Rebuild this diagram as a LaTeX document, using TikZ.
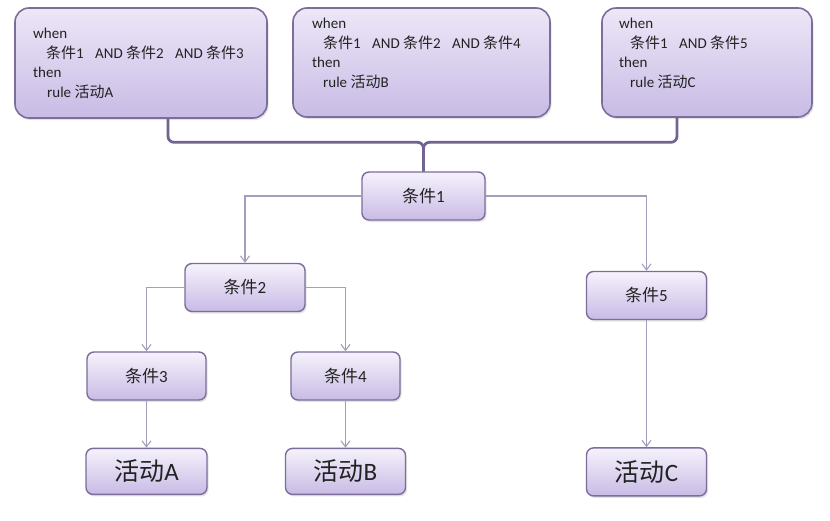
\documentclass[tikz,border=0pt]{standalone}
\usepackage{fontspec}
\setmainfont{Carlito}
\newfontfamily\cjk{Noto Sans CJK SC}
\usetikzlibrary{positioning,arrows.meta,calc,shadows}
\definecolor{BoxTop}{RGB}{246,242,252}
\definecolor{BoxBottom}{RGB}{200,187,229}
\definecolor{BoxBorder}{RGB}{124,109,154}
\definecolor{LinkGray}{RGB}{165,157,189}
\definecolor{BraceLine}{RGB}{114,100,144}
\definecolor{TextDark}{RGB}{34,34,34}
\newcommand{\zh}[1]{{\cjk #1}}

\begin{document}
\begin{tikzpicture}[
  x=1pt, y=-1pt,
  every node/.style={text=TextDark},
  rulebox/.style={draw=BoxBorder, line width=1.6pt, rounded corners=14pt, top color=BoxTop!80!BoxBottom, bottom color=BoxBottom, drop shadow={opacity=0.22, shadow xshift=1.5pt, shadow yshift=-2pt}, inner sep=0pt},
  condbox/.style={draw=BoxBorder, line width=1.4pt, rounded corners=7pt, top color=BoxTop, bottom color=BoxBottom, drop shadow={opacity=0.22, shadow xshift=1.5pt, shadow yshift=-2pt}, minimum width=120pt, minimum height=48pt, font=\fontsize{17}{20}\selectfont},
  actbox/.style={condbox, minimum height=46pt, font=\fontsize{25}{28}\selectfont},
  ruletext/.style={anchor=north west, align=left, inner sep=0pt, font=\fontsize{15}{19.5}\selectfont},
  link/.style={draw=LinkGray, line width=1.1pt, -{Straight Barb[length=6pt,width=9pt]}},
  brace/.style={draw=BraceLine, line width=2.8pt, rounded corners=6pt}
]
\path[use as bounding box, fill=white] (0,0) rectangle (830,520);

% Rule boxes
\node[rulebox, minimum width=252pt, minimum height=110pt] (ruleA) at (141,63) {};
\node[rulebox, minimum width=257pt, minimum height=109pt] (ruleB) at (421.5,62.5) {};
\node[rulebox, minimum width=210pt, minimum height=109pt] (ruleC) at (707,62.5) {};

\node[ruletext] (txtA) at (33,28) {when\\\hspace*{13pt}\zh{条件}1\hspace{8pt} AND \zh{条件}2\hspace{8pt} AND \zh{条件}3\\then\\\hspace*{14pt}rule \zh{活动}A};
\node[ruletext] (txtB) at (312,18) {when\\\hspace*{11pt}\zh{条件}1\hspace{8pt} AND \zh{条件}2\hspace{8pt} AND \zh{条件}4\\then\\\hspace*{11pt}rule \zh{活动}B};
\node[ruletext] (txtC) at (619,18) {when\\\hspace*{11pt}\zh{条件}1\hspace{8pt} AND \zh{条件}5\\then\\\hspace*{11pt}rule \zh{活动}C};

% Condition tree
\node[condbox, minimum width=123pt] (cond1) at (423.5,196) {\zh{条件}1};
\node[condbox] (cond2) at (245,287.5) {\zh{条件}2};
\node[condbox, minimum width=119pt] (cond3) at (146.5,376) {\zh{条件}3};
\node[condbox, minimum width=109pt] (cond4) at (345.5,376) {\zh{条件}4};
\node[condbox] (cond5) at (646.5,295.5) {\zh{条件}5};

% Activities
\node[actbox, below=47pt of cond3, minimum width=121pt] (actA) {\zh{活动}A};
\node[actbox, below=47pt of cond4] (actB) {\zh{活动}B};
\node[actbox, below=127pt of cond5, minimum height=48pt] (actC) {\zh{活动}C};

% Brace joining the rules
\coordinate (braceL) at ($(ruleA.south)+(27,0)$);
\coordinate (braceR) at ($(ruleC.south)+(-30,0)$);
\coordinate (braceM) at ($(cond1.north)+(0,-29)$);
\draw[brace] (braceL) |- (braceM) -- (cond1.north);
\draw[brace] (braceR) |- (braceM) -- (cond1.north);

% Connectors
\draw[link] (cond1.west) -| (cond2.north);
\draw[link] (cond1.east) -| (cond5.north);
\draw[link] (cond2.west) -| (cond3.north);
\draw[link] (cond2.east) -| (cond4.north);
\draw[link] (cond3) -- (actA);
\draw[link] (cond4) -- (actB);
\draw[link] (cond5) -- (actC);
\end{tikzpicture}
\end{document}
